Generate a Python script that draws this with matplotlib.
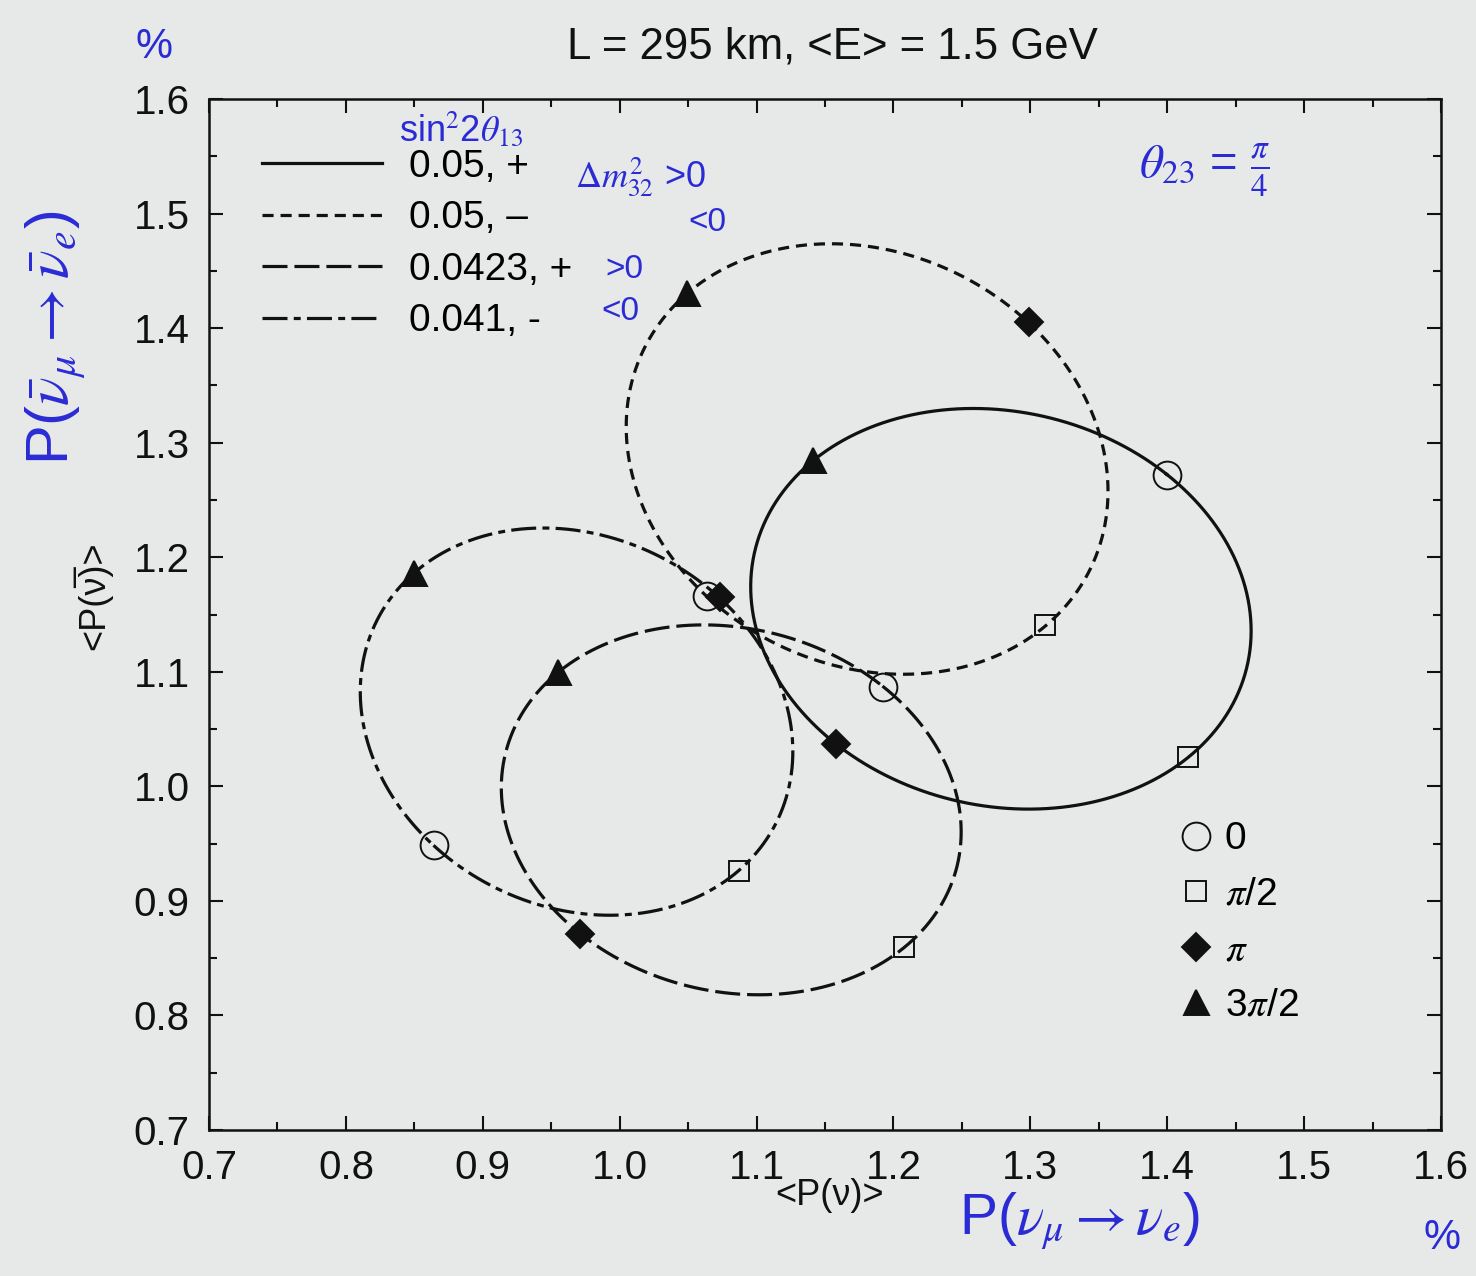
import numpy as np
import matplotlib
matplotlib.use("Agg")
import matplotlib.pyplot as plt
from matplotlib.lines import Line2D

plt.rcParams["font.family"] = ["Liberation Sans", "DejaVu Sans"]
plt.rcParams["mathtext.fontset"] = "stix"
plt.rcParams["lines.scale_dashes"] = False

# CP trajectories: (P(nu), P(nubar)) in % at delta = 0, pi/2, pi, 3pi/2
curve_labels = ["0.05, +", "0.05, \u2013", "0.0423, +", "0.041, -"]
p_nu = [
    [1.400, 1.415, 1.158, 1.141],
    [1.064, 1.311, 1.299, 1.049],
    [1.192, 1.208, 0.971, 0.955],
    [0.864, 1.087, 1.073, 0.850],
]
p_nubar = [
    [1.272, 1.026, 1.037, 1.285],
    [1.166, 1.141, 1.405, 1.431],
    [1.087, 0.860, 0.871, 1.100],
    [0.949, 0.926, 1.165, 1.186],
]
line_styles = ["-", (0, (8, 5)), (0, (18, 5)), (0, (18, 4.5, 5, 4.5))]

phase_labels = ["0", r"$\pi$/2", r"$\pi$", r"3$\pi$/2"]
phase_symbols = ["o", "s", "D", "^"]
symbol_size = {"o": 20, "s": 15, "D": 14, "^": 18}

x_ticks = np.round(np.arange(0.7, 1.61, 0.1), 1)
y_ticks = np.round(np.arange(0.7, 1.61, 0.1), 1)

ink = "#111111"
pen = "#2b2bd6"
paper = "#e6e9e7"

fig = plt.figure(figsize=(14.76, 12.76), dpi=100, facecolor=paper)
ax = fig.add_axes([0.1416, 0.1144, 0.8347, 0.808])
ax.set_facecolor(paper)


def trajectory(px, py, n=400):
    """Closed CP curve P(d) = A + B cos d + C sin d through the four phase points."""
    px = np.asarray(px)
    py = np.asarray(py)
    d = np.linspace(0, 2 * np.pi, n)
    ax_, ay_ = px.mean(), py.mean()
    bx, by = (px[0] - px[2]) / 2, (py[0] - py[2]) / 2
    cx, cy = (px[1] - px[3]) / 2, (py[1] - py[3]) / 2
    return ax_ + bx * np.cos(d) + cx * np.sin(d), ay_ + by * np.cos(d) + cy * np.sin(d)


handles = []
for px, py, ls, lab in zip(p_nu, p_nubar, line_styles, curve_labels):
    xs, ys = trajectory(px, py)
    (h,) = ax.plot(xs, ys, color=ink, lw=2.3, linestyle=ls, label=lab, zorder=2)
    handles.append(h)

for px, py in zip(p_nu, p_nubar):
    for x, y, s in zip(px, py, phase_symbols):
        filled = s in ("D", "^")
        ax.plot(x, y, marker=s, ms=symbol_size[s], linestyle="none",
                mfc=ink if filled else "none", mec=ink, mew=1.4, zorder=3)

ax.set_xlim(0.7, 1.6)
ax.set_ylim(0.7, 1.6)
ax.set_xticks(x_ticks)
ax.set_yticks(y_ticks)
ax.set_xticklabels([f"{v:.1f}" for v in x_ticks])
ax.set_yticklabels([f"{v:.1f}" for v in y_ticks])
ax.set_xticks(np.round(np.arange(0.75, 1.6, 0.1), 2), minor=True)
ax.set_yticks(np.round(np.arange(0.75, 1.6, 0.1), 2), minor=True)
ax.tick_params(which="both", direction="in", top=True, right=True,
               colors=ink, labelsize=29, width=1.5)
ax.tick_params(which="major", length=10, pad=14)
ax.tick_params(which="minor", length=6)
for sp in ax.spines.values():
    sp.set_linewidth(1.8)
    sp.set_color(ink)

leg1 = ax.legend(handles=handles, loc="upper left", frameon=False, fontsize=28,
                 handlelength=3.1, handletextpad=0.7, labelspacing=0.4,
                 bbox_to_anchor=(0.03, 0.967), borderaxespad=0)
ax.add_artist(leg1)

proxies = [Line2D([], [], marker=s, linestyle="none", color=ink,
                  mfc=ink if s in ("D", "^") else "none", mec=ink, mew=1.4,
                  ms=symbol_size[s]) for s in phase_symbols]
leg2 = ax.legend(handles=proxies, labels=phase_labels, loc="lower right",
                 frameon=False, fontsize=28, handlelength=0.9, handletextpad=0.3,
                 labelspacing=0.5, bbox_to_anchor=(0.897, 0.088), borderaxespad=0)

fig.text(0.564, 0.963, "L = 295 km, <E> = 1.5 GeV", ha="center", va="center",
         fontsize=31.5, color=ink)
fig.text(0.562, 0.063, "<P(\u03bd)>", ha="center", va="center", fontsize=26, color=ink)
fig.text(0.063, 0.533, "<P(\u03bd\u0305)>", ha="center", va="center", fontsize=26,
         color=ink, rotation=90)

# handwritten notes
fig.text(0.104, 0.963, "%", ha="center", va="center", fontsize=30, color=pen)
fig.text(0.977, 0.030, "%", ha="center", va="center", fontsize=30, color=pen)
fig.text(0.731, 0.043, r"P($\nu_\mu \rightarrow \nu_e$)", ha="center", va="center",
         fontsize=41, color=pen)
fig.text(0.037, 0.735, r"P($\bar{\nu}_\mu \rightarrow \bar{\nu}_e$)", ha="center",
         va="center", fontsize=43, color=pen, rotation=90)
fig.text(0.312, 0.898, r"sin$^2$2$\theta_{13}$", ha="center", va="center",
         fontsize=26, color=pen)
fig.text(0.434, 0.861, r"$\Delta m^2_{32}$ >0", ha="center", va="center",
         fontsize=26, color=pen)
fig.text(0.479, 0.826, "<0", ha="center", va="center", fontsize=24, color=pen)
fig.text(0.423, 0.789, ">0", ha="center", va="center", fontsize=24, color=pen)
fig.text(0.42, 0.756, "<0", ha="center", va="center", fontsize=24, color=pen)
fig.text(0.8165, 0.866, r"$\theta_{23}$ = $\frac{\pi}{4}$", ha="center", va="center",
         fontsize=34, color=pen)

fig.savefig("out.png", dpi=100, facecolor=paper)
